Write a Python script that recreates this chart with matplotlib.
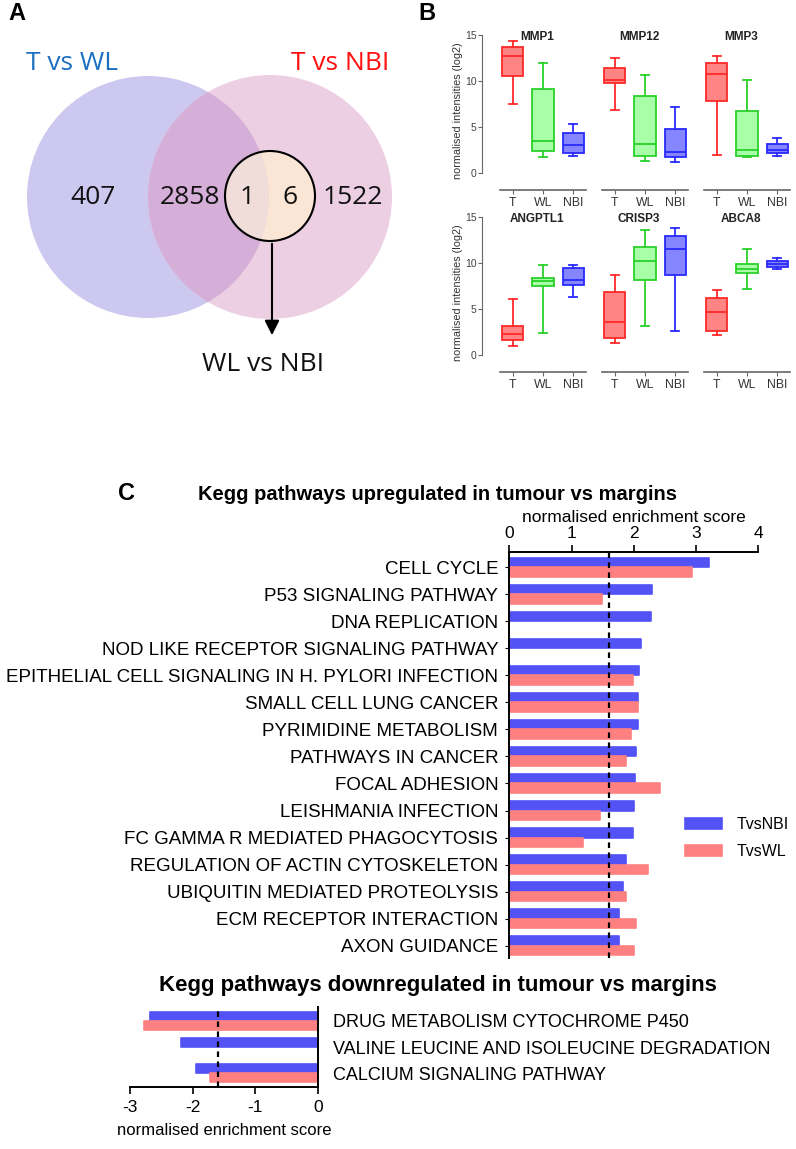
import matplotlib.pyplot as plt
import matplotlib.patches as patches
import numpy as np

# ---------------- data ----------------
venn_counts = [407, 2858, 1, 6, 1522]
venn_sets = ['T vs WL', 'T vs NBI', 'WL vs NBI']

genes = ['MMP1', 'MMP12', 'MMP3', 'ANGPTL1', 'CRISP3', 'ABCA8']
groups = ['T', 'WL', 'NBI']
# one row per gene, values for T, WL, NBI
whisk_lo = [[7.5, 1.7, 1.8], [6.9, 1.3, 1.2], [2.0, 1.7, 1.9],
            [1.0, 2.4, 6.3], [1.3, 3.2, 2.6], [2.2, 7.2, 9.3]]
q1 = [[10.5, 2.4, 2.2], [9.8, 1.9, 1.7], [7.8, 1.8, 2.2],
      [1.6, 7.5, 7.6], [1.9, 8.2, 8.7], [2.6, 8.9, 9.6]]
med = [[12.7, 3.5, 3.0], [10.1, 3.2, 2.3], [10.8, 2.5, 2.5],
       [2.3, 8.0, 8.2], [3.6, 10.2, 11.5], [4.7, 9.4, 9.9]]
q3 = [[13.7, 9.1, 4.3], [11.4, 8.4, 4.8], [12.0, 6.7, 3.1],
      [3.2, 8.4, 9.5], [6.9, 11.7, 12.9], [6.2, 9.9, 10.2]]
whisk_hi = [[14.3, 12.0, 5.3], [12.5, 10.6, 7.2], [12.7, 10.1, 3.8],
            [6.1, 9.8, 9.8], [8.7, 13.6, 13.8], [7.1, 11.5, 10.5]]

up_paths = ['CELL CYCLE', 'P53 SIGNALING PATHWAY', 'DNA REPLICATION',
            'NOD LIKE RECEPTOR SIGNALING PATHWAY',
            'EPITHELIAL CELL SIGNALING IN H. PYLORI INFECTION',
            'SMALL CELL LUNG CANCER', 'PYRIMIDINE METABOLISM',
            'PATHWAYS IN CANCER', 'FOCAL ADHESION', 'LEISHMANIA INFECTION',
            'FC GAMMA R MEDIATED PHAGOCYTOSIS',
            'REGULATION OF ACTIN CYTOSKELETON',
            'UBIQUITIN MEDIATED PROTEOLYSIS', 'ECM RECEPTOR INTERACTION',
            'AXON GUIDANCE']
up_nbi = [3.21, 2.30, 2.28, 2.11, 2.09, 2.07, 2.06, 2.03, 2.02, 2.00,
          1.99, 1.87, 1.83, 1.77, 1.76]
up_wl = [2.93, 1.49, 0, 0, 1.99, 2.07, 1.95, 1.87, 2.42, 1.45,
         1.19, 2.23, 1.87, 2.03, 2.00]

down_paths = ['DRUG METABOLISM CYTOCHROME P450',
              'VALINE LEUCINE AND ISOLEUCINE DEGRADATION',
              'CALCIUM SIGNALING PATHWAY']
down_nbi = [-2.68, -2.18, -1.94]
down_wl = [-2.78, 0, -1.73]

nes_cutoff = 1.6

# ---------------- figure ----------------
W, H = 796, 1149
fig = plt.figure(figsize=(W / 100, H / 100), dpi=100)
plt.rcParams['font.family'] = ['Liberation Sans', 'DejaVu Sans']
plt.rcParams['axes.unicode_minus'] = False


def px_axes(x0, y0, x1, y1):
    return fig.add_axes([x0 / W, 1 - y1 / H, (x1 - x0) / W, (y1 - y0) / H])


# ---------------- panel A: venn ----------------
axa = px_axes(0, 0, 400, 420)
axa.set_xlim(0, 400)
axa.set_ylim(420, 0)
axa.axis('off')
left = patches.Circle((148, 197), 121, facecolor='#cdc8f0', edgecolor='none')
right = patches.Circle((270, 197), 122, facecolor='#edcfe4', edgecolor='none')
axa.add_patch(left)
axa.add_patch(right)
ov = patches.Circle((270, 197), 122, facecolor='#d5afd7', edgecolor='none')
axa.add_patch(ov)
ov.set_clip_path(left)
small = patches.Circle((270, 196), 45, facecolor='#fbe6d6', edgecolor='none')
axa.add_patch(small)
small2 = patches.Circle((270, 196), 45, facecolor='#f0dcd8', edgecolor='none')
axa.add_patch(small2)
small2.set_clip_path(left)
axa.add_patch(patches.Circle((270, 196), 45, facecolor='none',
                             edgecolor='black', lw=1.5))
axa.annotate('', xy=(272, 338), xytext=(272, 241),
             arrowprops=dict(arrowstyle='-|>', color='black', lw=1.5,
                             mutation_scale=22))
vfont = dict(family=['Open Sans', 'DejaVu Sans'], fontsize=19,
             ha='center', va='center')
for txt, x in zip(venn_counts, [93, 190, 247, 290, 353]):
    axa.text(x, 197, str(txt), color='#111111', **vfont)
axa.text(72, 64, venn_sets[0], color='#1a6fc0', **vfont)
axa.text(340, 64, venn_sets[1], color='#ff1010', **vfont)
axa.text(263, 364, venn_sets[2], color='#111111', **vfont)
fig.text(8 / W, 1 - 14 / H, 'A', fontsize=17, fontweight='bold',
         va='center', ha='left')

# ---------------- panel B: boxplots ----------------
fig.text(418 / W, 1 - 14 / H, 'B', fontsize=17, fontweight='bold',
         va='center', ha='left')
edge_cols = ['#ff2a2a', '#2ad12a', '#2a2aff']
fill_cols = ['#ff8585', '#a8ffa8', '#8585ff']
col_x = [(500, 586), (602, 688), (704, 790)]
row_y = [(30.4, 190), (212.4, 372)]
for i, g in enumerate(genes):
    r, c = divmod(i, 3)
    ax = px_axes(col_x[c][0], row_y[r][0], col_x[c][1], row_y[r][1])
    stats = []
    for j in range(3):
        stats.append(dict(whislo=whisk_lo[i][j], q1=q1[i][j], med=med[i][j],
                          q3=q3[i][j], whishi=whisk_hi[i][j], label=groups[j]))
    bp = ax.bxp(stats, positions=[1, 2, 3], widths=0.7, capwidths=0.28,
                patch_artist=True, showfliers=False)
    for j in range(3):
        bp['boxes'][j].set(facecolor=fill_cols[j], edgecolor=edge_cols[j], lw=1.3)
        bp['medians'][j].set(color=edge_cols[j], lw=1.3)
        for k in (2 * j, 2 * j + 1):
            bp['whiskers'][k].set(color=edge_cols[j], lw=1.3)
            bp['caps'][k].set(color=edge_cols[j], lw=1.3)
    ax.set_xlim(0.57, 3.43)
    ax.set_ylim(-1.85, 15.5)
    for s in ('top', 'right'):
        ax.spines[s].set_visible(False)
    ax.spines['bottom'].set_color('#666666')
    ax.spines['bottom'].set_linewidth(1.2)
    ax.tick_params(axis='x', length=3, color='#666666', labelsize=8.8,
                   labelcolor='#333333', pad=2)
    if c == 0:
        ax.spines['left'].set_position(('outward', 13))
        ax.spines['left'].set_bounds(0, 15)
        ax.spines['left'].set_color('#666666')
        ax.set_yticks([0, 5, 10, 15])
        ax.tick_params(axis='y', length=3, color='#666666', labelsize=7.5,
                       labelcolor='#444444', pad=1)
        ax.set_ylabel('normalised intensities (log2)', fontsize=7.8,
                      color='#333333', labelpad=1)
    else:
        ax.spines['left'].set_visible(False)
        ax.set_yticks([])
    ax.text(1.8, 14.8, g, fontsize=8.5, fontweight='bold', ha='center',
            va='center', color='#222222')

# ---------------- panel C: kegg up ----------------
fig.text(118 / W, 1 - 493 / H, 'C', fontsize=17, fontweight='bold',
         va='center', ha='left')
fig.text(437 / W, 1 - 494 / H, 'Kegg pathways upregulated in tumour vs margins',
         fontsize=14.5, fontweight='bold', ha='center', va='center')
blue = '#5252f5'
red = '#ff8080'
bh = 0.34
axc = px_axes(509.3, 552, 758.3, 958)
y = np.arange(len(up_paths))
axc.barh(y - bh / 2, up_nbi, height=bh, color=blue, label='TvsNBI',
         edgecolor=blue, lw=1.2, joinstyle='round')
axc.barh(y + bh / 2, up_wl, height=bh, color=red, label='TvsWL',
         edgecolor=red, lw=1.2, joinstyle='round')
axc.axvline(nes_cutoff, color='black', ls=(0, (2.5, 2)), lw=1.6)
axc.set_xlim(0, 4)
axc.set_ylim(14.46, -0.57)
axc.xaxis.tick_top()
axc.xaxis.set_label_position('top')
axc.set_xticks([0, 1, 2, 3, 4])
axc.set_xlabel('normalised enrichment score', fontsize=12.5, labelpad=3)
axc.set_yticks(y)
axc.set_yticklabels(up_paths)
axc.tick_params(axis='y', length=3, labelsize=13.5, pad=5)
axc.tick_params(axis='x', length=5, labelsize=12.5, pad=3, width=1.2)
for s in ('bottom', 'right'):
    axc.spines[s].set_visible(False)
for s in ('top', 'left'):
    axc.spines[s].set_linewidth(1.4)
axc.legend(loc='upper left', bbox_to_anchor=(0.706, 0.347), frameon=False,
           fontsize=11.5, handlelength=2.3, handleheight=0.6,
           labelspacing=0.75, handletextpad=0.95, borderpad=0,
           borderaxespad=0)

# ---------------- panel C: kegg down ----------------
fig.text(438 / W, 1 - 985 / H, 'Kegg pathways downregulated in tumour vs margins',
         fontsize=16, fontweight='bold', ha='center', va='center')
axd = px_axes(130, 1007, 318, 1087)
yd = np.arange(len(down_paths))
axd.barh(yd - bh / 2, down_nbi, height=bh, color=blue, edgecolor=blue,
         lw=1.2, joinstyle='round')
axd.barh(yd + bh / 2, down_wl, height=bh, color=red, edgecolor=red,
         lw=1.2, joinstyle='round')
axd.axvline(-nes_cutoff, color='black', ls=(0, (2.5, 2)), lw=1.6)
axd.set_xlim(-3, 0)
axd.set_ylim(2.51, -0.51)
axd.yaxis.tick_right()
axd.set_yticks(yd)
axd.set_yticklabels(down_paths)
axd.set_xticks([-3, -2, -1, 0])
axd.tick_params(axis='y', length=0, labelsize=13, pad=11)
axd.tick_params(axis='x', length=5, labelsize=12.5, pad=4, width=1.2)
axd.set_xlabel('normalised enrichment score', fontsize=12, labelpad=6)
for s in ('top', 'left'):
    axd.spines[s].set_visible(False)
for s in ('bottom', 'right'):
    axd.spines[s].set_linewidth(1.4)

fig.savefig('out.png', dpi=100)
